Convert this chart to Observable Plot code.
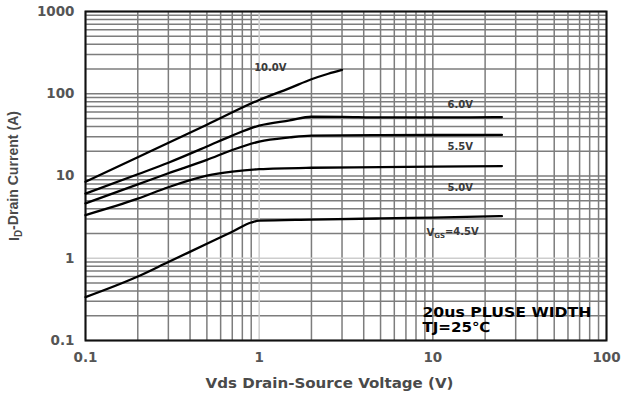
<!DOCTYPE html>
<html><head><meta charset="utf-8">
<script src="https://cdn.jsdelivr.net/npm/d3@7"></script>
<script src="https://cdn.jsdelivr.net/npm/@observablehq/plot@0.6"></script>
<style>body{margin:0;background:#fff}</style>
</head><body><div id="chart"></div>
<script>
// Curves: Vds (V) and Id (A) per gate voltage
const x10 = [0.1, 0.2, 0.5, 1, 1.5, 2, 2.5, 3];
const y10 = [8.5, 16.9, 42, 84, 117, 150, 175, 195];
const x60 = [0.1, 0.2, 0.3, 0.5, 0.7, 1, 1.5, 2, 3, 5, 10, 25];
const y60 = [6.1, 10.5, 14.5, 22.8, 31, 41, 47.5, 52.5, 52.3, 51.5, 51.5, 52];
const x55 = [0.1, 0.2, 0.3, 0.5, 0.7, 1, 1.5, 2, 5, 10, 25];
const y55 = [4.65, 7.9, 10.8, 15.7, 20.7, 26.2, 29.5, 31, 31.4, 31.5, 31.6];
const x50 = [0.1, 0.2, 0.3, 0.5, 0.7, 1, 2, 5, 10, 25];
const y50 = [3.35, 5.3, 7.3, 10.1, 11.3, 12.1, 12.6, 12.8, 13, 13.2];
const x45 = [0.1, 0.2, 0.3, 0.5, 0.7, 0.9, 1, 2, 5, 10, 25];
const y45 = [0.337, 0.6, 0.9, 1.5, 2.1, 2.72, 2.86, 2.95, 3.05, 3.12, 3.25];

// Curve labels
const labelText = ["10.0V", "6.0V", "5.5V", "5.0V", "VGS=4.5V"];
const labelX = [1.16, 14.4, 14.4, 14.4, 13.0];
const labelY = [208, 74, 22.8, 7.15, 2.06];

// Note
const noteText = ["20us PLUSE WIDTH", "TJ=25\u2103"];
const noteX = [8.71, 8.71];
const noteY = [0.219, 0.144];

// Ticks and titles
const xTicks = [0.1, 1, 10, 100];
const yTicks = [0.1, 1, 10, 100, 1000];
const xTitle = "Vds Drain-Source Voltage (V)";
const yTitle = "ID-Drain Current (A)";

const series = [
  ["10.0V", x10, y10], ["6.0V", x60, y60], ["5.5V", x55, y55],
  ["5.0V", x50, y50], ["4.5V", x45, y45]
];
const rows = series.flatMap(([name, xs, ys]) => xs.map((v, i) => ({vgs: name, vds: v, id: ys[i]})));
const labels = labelText.map((t, i) => ({t, x: labelX[i], y: labelY[i]}));
const notes = noteText.map((t, i) => ({t, x: noteX[i], y: noteY[i]}));

const minor = (ticks) => ticks.slice(0, -1).flatMap(d => [1,2,3,4,5,6,7,8,9].map(k => +(d * k).toPrecision(3))).concat([ticks[ticks.length - 1]]);
const xGrid = minor(xTicks);
const yGrid = minor(yTicks);

const chart = Plot.plot({
  width: 621, height: 402,
  marginLeft: 85, marginRight: 15, marginTop: 11, marginBottom: 62,
  style: {fontFamily: "'DejaVu Sans', sans-serif", background: "#fff"},
  x: {type: "log", domain: [0.1, 100]},
  y: {type: "log", domain: [0.1, 1000]},
  marks: [
    Plot.ruleX(xGrid.filter(v => v !== 1), {stroke: "#7d7d7d", strokeWidth: 1.5}),
    Plot.ruleY(yGrid.filter(v => v !== 1), {stroke: "#7d7d7d", strokeWidth: 1.5}),
    Plot.ruleX([1], {stroke: "#cdcdcd", strokeWidth: 1.5}),
    Plot.ruleY([1], {stroke: "#cdcdcd", strokeWidth: 1.5}),
    Plot.frame({stroke: "#111", strokeWidth: 2}),
    Plot.line(rows, {x: "vds", y: "id", z: "vgs", stroke: "#000", strokeWidth: 2.3, curve: "monotone-x"}),
    Plot.text(labels, {x: "x", y: "y", text: "t", fontSize: 10, fontWeight: "bold", fill: "#3a3a3a"}),
    Plot.text(notes, {x: "x", y: "y", text: "t", textAnchor: "start", fontSize: 14, fontWeight: "bold", fill: "#000"}),
    Plot.axisX({ticks: xTicks, tickSize: 0, tickPadding: 12, tickFormat: d => String(d), fontSize: 13.5, fontWeight: "bold", fill: "#555", label: null}),
    Plot.axisY({ticks: yTicks, tickSize: 0, tickPadding: 11, tickFormat: d => String(d), fontSize: 13.5, fontWeight: "bold", fill: "#555", label: null}),
    Plot.text([xTitle], {frameAnchor: "bottom", dx: -16.5, dy: 47, fontSize: 14, fontWeight: "bold", fill: "#4a4a4a"}),
    Plot.text([yTitle], {frameAnchor: "left", dx: -71, dy: 65, rotate: -90, textAnchor: "start", fontSize: 15, fontWeight: "bold", fill: "#4a4a4a", fontFamily: "'Liberation Sans', Arial, sans-serif"})
  ]
});
document.getElementById("chart").appendChild(chart);

d3.select(chart).selectAll("text").each(function() {
  const t = this.textContent;
  const s = d3.select(this);
  if (t === yTitle) {
    s.text(null);
    s.append("tspan").text("I");
    s.append("tspan").attr("font-size", "0.7em").attr("dy", "0.3em").text("D");
    s.append("tspan").attr("dy", "-0.3em").text("-Drain Current (A)");
    s.attr("textLength", 130).attr("lengthAdjust", "spacingAndGlyphs");
  } else if (t === "VGS=4.5V") {
    s.text(null);
    s.append("tspan").text("V");
    s.append("tspan").attr("font-size", "0.7em").attr("dy", "0.3em").text("GS");
    s.append("tspan").attr("dy", "-0.3em").text("=4.5V");
  } else if (t === xTitle) {
    s.attr("textLength", 248).attr("lengthAdjust", "spacingAndGlyphs");
  } else if (t === noteText[0]) {
    s.attr("textLength", 169).attr("lengthAdjust", "spacingAndGlyphs");
  } else if (t === noteText[1]) {
    s.attr("textLength", 68).attr("lengthAdjust", "spacingAndGlyphs");
  }
});
</script>
</body></html>
